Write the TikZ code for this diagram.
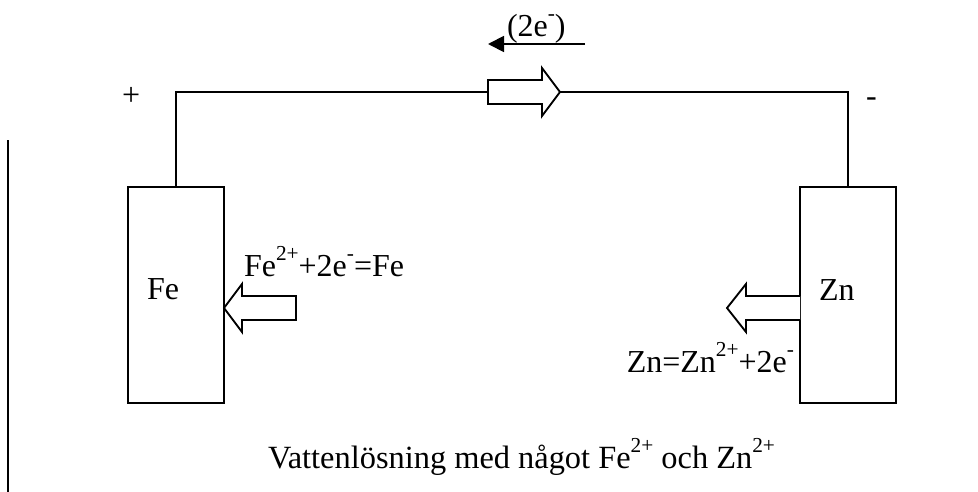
\documentclass[tikz,border=0pt]{standalone}
\usepackage{fontspec}
\setmainfont{Liberation Serif}
\usetikzlibrary{arrows.meta}
\tikzset{
 x=0.75pt,y=-0.75pt,
 wire/.style={line width=1.4pt,line join=miter},
 electrode/.style={draw,line width=1.4pt,minimum width=72pt,minimum height=162pt,inner sep=0pt,outer sep=0pt},
 lbl/.style={inner sep=0pt,outer sep=0pt,font=\fontsize{24}{26}\selectfont,anchor=base west},
 block/.style={draw,line width=1.4pt,fill=white,line join=miter}
}
\newcommand{\sups}[1]{\raisebox{12pt}{\fontsize{16}{16}\selectfont #1}}
\begin{document}
\begin{tikzpicture}
\useasboundingbox (0,0) rectangle (978,492);
\node[electrode] (fe) at (176,295) {};
\node[electrode] (zn) at (848,295) {};
\coordinate (wirel) at (488,92);
\coordinate (wirer) at (560,92);
\coordinate (leak1) at (8,140);
\coordinate (leak2) at (8,492);
\coordinate (ea) at (585,44);
\coordinate (eb) at (488,44);
\draw[wire] (fe.north) |- (wirel);
\draw[wire] (zn.north) |- (wirer);
\draw[wire] (leak1) -- (leak2);
\draw[wire,-{Triangle[length=12pt,width=12pt]}] (ea) -- (eb);
\draw[block] (wirel) -- (488,80) -- (542,80) -- (542,68) -- (wirer) -- (542,116) -- (542,104) -- (488,104) -- cycle;
\draw[block] (224,308) -- (242,284) -- (242,296) -- (296,296) -- (296,320) -- (242,320) -- (242,332) -- cycle;
\draw[block] (800,296) -- (746,296) -- (746,284) -- (727,308) -- (746,332) -- (746,320) -- (800,320);
\node[lbl] (t2e) at (507,37) {(2e\sups{-})};
\node[lbl] (tplus) at (122,105) {+};
\node[lbl] (tminus) at (866,107) {-};
\node[lbl] (tfe) at (147,299) {Fe};
\node[lbl] (tzn) at (819,300) {Zn};
\node[lbl] (tfer) at (244,276) {Fe\sups{2+}+2e\sups{-}=Fe};
\node[lbl,anchor=base east] (tznr) at (794,372) {Zn=Zn\sups{2+}+2e\sups{-}};
\node[lbl,font=\fontsize{24.3}{26}\selectfont] (tbot) at (268,468) {Vattenlösning med något Fe\sups{2+} och Zn\sups{2+}};
\end{tikzpicture}
\end{document}
